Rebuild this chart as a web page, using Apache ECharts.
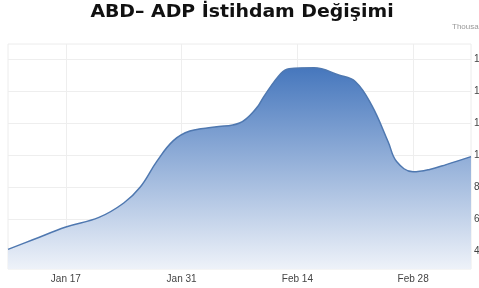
<!DOCTYPE html>
<html>
<head>
<meta charset="utf-8">
<script src="https://cdn.jsdelivr.net/npm/echarts@6/dist/echarts.min.js"></script>
<style>
  html, body { margin: 0; padding: 0; background: #fff; }
  #chart { width: 479px; height: 288px; }
</style>
</head>
<body>
<div id="chart"></div>
<script>
// ADP employment change, thousands
const dates = [
  '2022-01-10', '2022-01-13', '2022-01-17', '2022-01-21', '2022-01-24',
  '2022-01-26', '2022-01-28', '2022-01-30', '2022-02-01', '2022-02-04',
  '2022-02-07', '2022-02-09', '2022-02-10', '2022-02-12', '2022-02-13',
  '2022-02-16', '2022-02-19', '2022-02-21', '2022-02-23', '2022-02-25',
  '2022-02-26', '2022-02-28', '2022-03-02', '2022-03-04', '2022-03-07'
];
const values = [
  41, 47, 55, 61, 70,
  80, 96, 109, 115, 117.5,
  120, 129, 137, 151, 154,
  154.5, 150, 146, 131, 108,
  96, 89.5, 91, 94, 99
];
const xTickDates = ['2022-01-17', '2022-01-31', '2022-02-14', '2022-02-28'];
const xTickLabels = ['Jan 17', 'Jan 31', 'Feb 14', 'Feb 28'];
const yTicks = [40, 60, 80, 100, 120, 140, 160];

// days since the first date
const DAY = 24 * 3600 * 1000;
const t0 = new Date(dates[0] + 'T00:00:00Z').getTime();
const day = d => (new Date(d + 'T00:00:00Z').getTime() - t0) / DAY;
const xTickDays = xTickDates.map(day);

const chart = echarts.init(document.getElementById('chart'), null, { renderer: 'canvas' });

const option = {
  animation: false,
  graphic: [{
    // title, a bit stretched sideways like the original
    type: 'text',
    x: 242,
    y: 13,
    scaleX: 1.11,
    style: {
      text: 'ABD– ADP İstihdam Değişimi',
      font: 'bold 17px "DejaVu Sans"',
      fill: '#111',
      align: 'center',
      verticalAlign: 'middle'
    }
  }, {
    type: 'text',
    left: 452,
    top: 23,
    style: {
      text: 'Thousand',
      fontFamily: 'Liberation Sans Narrow, Liberation Sans',
      fontSize: 8,
      fill: '#999'
    }
  }],
  grid: {
    left: 8,
    right: 8,
    top: 44,
    bottom: 19,
    outerBoundsMode: 'none',
    containLabel: false,
    show: true,
    borderColor: '#ececec',
    borderWidth: 1
  },
  xAxis: {
    type: 'value',
    min: 0,
    max: 56,
    axisLine: { show: false },
    axisTick: { show: false, customValues: xTickDays },
    axisLabel: {
      customValues: xTickDays,
      formatter: v => xTickLabels[xTickDays.indexOf(v)] || '',
      color: '#444',
      fontSize: 10,
      fontFamily: 'Liberation Sans Narrow, Liberation Sans',
      margin: 5
    },
    splitLine: { show: true, lineStyle: { color: '#eeeeee' } }
  },
  yAxis: {
    type: 'value',
    position: 'right',
    min: 28.75,
    max: 169.4,
    axisLine: { show: false },
    axisTick: { show: false, customValues: yTicks },
    axisLabel: {
      customValues: yTicks,
      color: '#444',
      fontSize: 10,
      fontFamily: 'Liberation Sans Narrow, Liberation Sans',
      margin: 3
    },
    splitLine: { show: true, lineStyle: { color: '#eeeeee' } }
  },
  series: [{
    type: 'line',
    smooth: 0.4,
    showSymbol: false,
    data: dates.map((d, i) => [day(d), values[i]]),
    lineStyle: { color: '#4f78b0', width: 1.5 },
    areaStyle: {
      origin: 'start',
      opacity: 1,
      color: new echarts.graphic.LinearGradient(0, 0, 0, 1, [
        { offset: 0, color: '#4677bd' },
        { offset: 1, color: '#eef2f9' }
      ])
    }
  }]
};

chart.setOption(option);
</script>
</body>
</html>
